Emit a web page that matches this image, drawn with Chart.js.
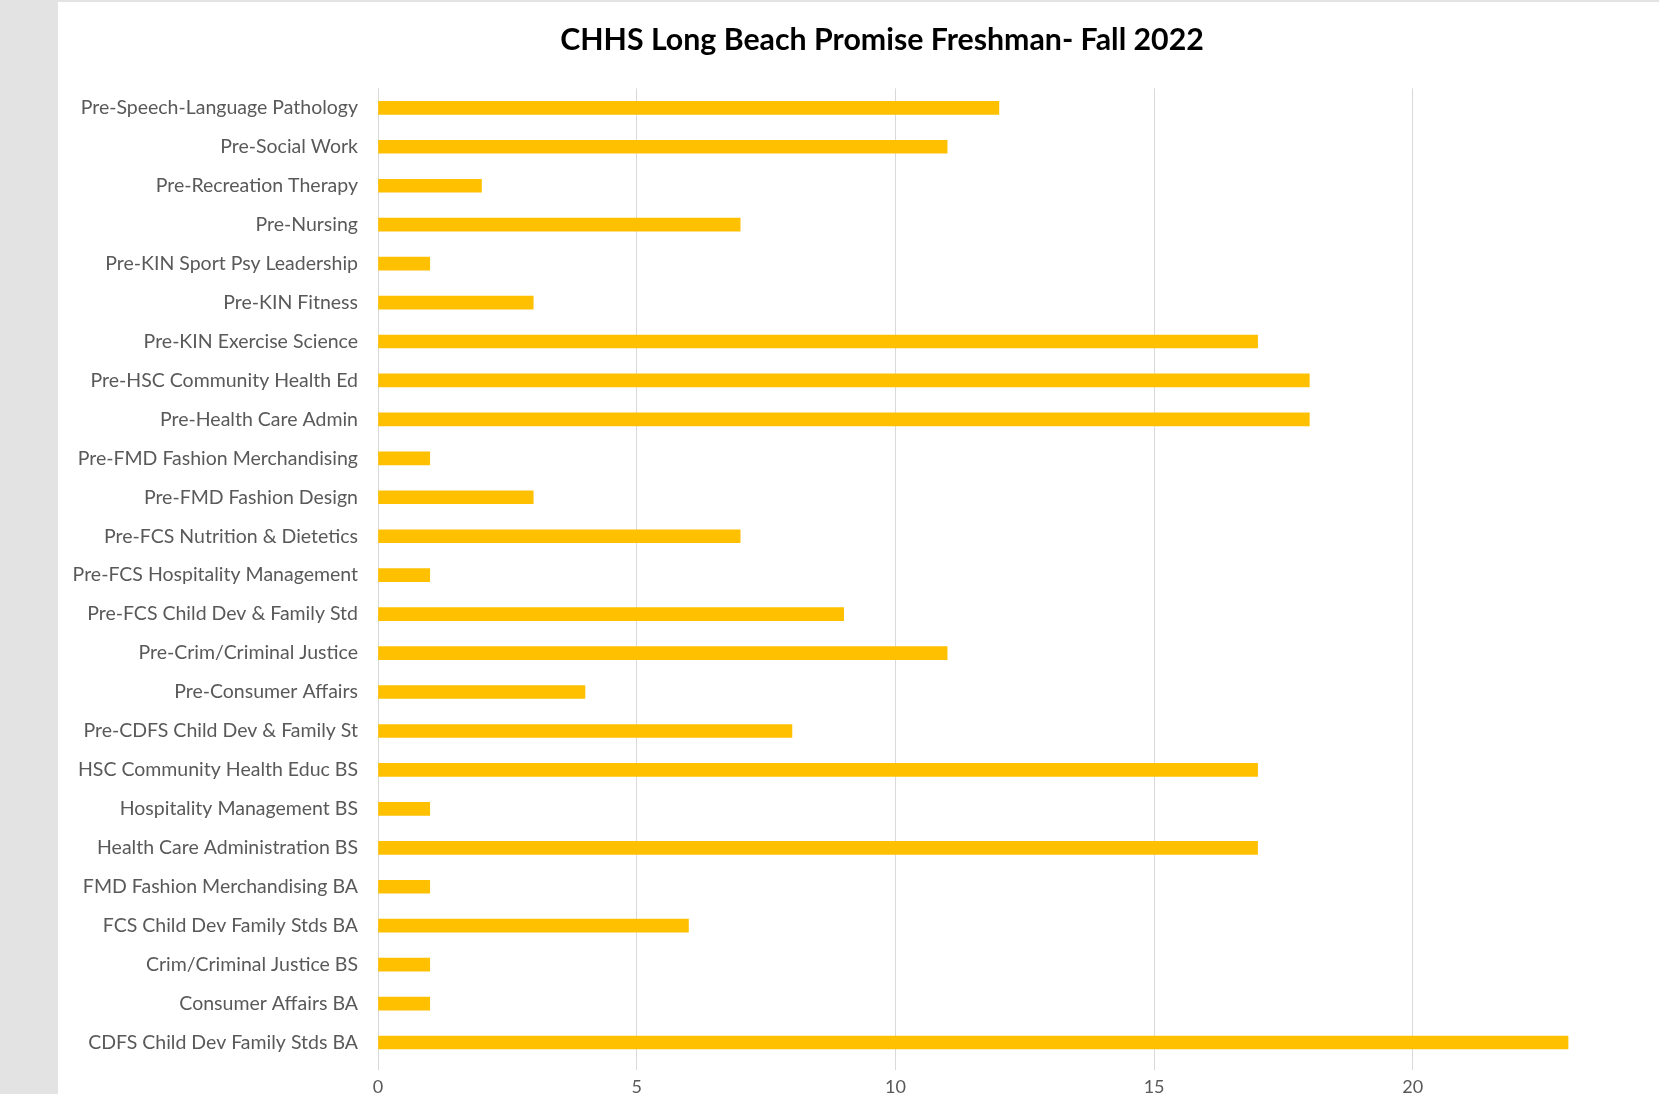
<!DOCTYPE html>
<html>
<head>
<meta charset="utf-8">
<script src="https://cdn.jsdelivr.net/npm/chart.js@4/dist/chart.umd.min.js"></script>
<style>
  html, body { margin: 0; padding: 0; background: #e3e3e3; overflow: hidden; width: 1659px; height: 1094px; }
  #panel { position: absolute; left: 58px; top: 2px; width: 1646px; height: 1100px; background: #fff; }
  canvas { display: block; }
</style>
</head>
<body>
<div id="panel"><canvas id="chart" width="1646" height="1100"></canvas></div>
<script>
// majors, top to bottom as in the picture
const majors = [
    'Pre-Speech-Language Pathology',
    'Pre-Social Work',
    'Pre-Recreation Therapy',
    'Pre-Nursing',
    'Pre-KIN Sport Psy Leadership',
    'Pre-KIN Fitness',
    'Pre-KIN Exercise Science',
    'Pre-HSC Community Health Ed',
    'Pre-Health Care Admin',
    'Pre-FMD Fashion Merchandising',
    'Pre-FMD Fashion Design',
    'Pre-FCS Nutrition & Dietetics',
    'Pre-FCS Hospitality Management',
    'Pre-FCS Child Dev & Family Std',
    'Pre-Crim/Criminal Justice',
    'Pre-Consumer Affairs',
    'Pre-CDFS Child Dev & Family St',
    'HSC Community Health Educ BS',
    'Hospitality Management BS',
    'Health Care Administration BS',
    'FMD Fashion Merchandising BA',
    'FCS Child Dev Family Stds BA',
    'Crim/Criminal Justice BS',
    'Consumer Affairs BA',
    'CDFS Child Dev Family Stds BA'
];
const freshmen = [12, 11, 2, 7, 1, 3, 17, 18, 18, 1, 3, 7, 1, 9, 11, 4, 8, 17, 1, 17, 1, 6, 1, 1, 23];
const xTicks = [0, 5, 10, 15, 20, 25];

const font = 'Lato, "Open Sans", sans-serif';

// the title sits centred on the whole chart, not just the part left of the padding
const centerTitle = {
    id: 'centerTitle',
    afterLayout(chart) {
        chart.titleBlock.left = 0;
        chart.titleBlock.right = 1648;
    }
};

const ctx = document.getElementById('chart').getContext('2d');
new Chart(ctx, {
    type: 'bar',
    data: {
        labels: majors,
        datasets: [{
            label: 'Freshmen',
            data: freshmen,
            backgroundColor: '#ffc000',
            borderWidth: 0,
            barThickness: 13
        }]
    },
    options: {
        indexAxis: 'y',
        responsive: false,
        animation: false,
        layout: { padding: { right: 32.5 } },
        plugins: {
            legend: { display: false },
            tooltip: { enabled: false },
            title: {
                display: true,
                text: 'CHHS Long Beach Promise Freshman- Fall 2022',
                color: '#000',
                font: { family: font, size: 30.3, weight: 'bold' },
                padding: { top: 20, bottom: 30 }
            }
        },
        scales: {
            x: {
                min: 0,
                max: 25,
                afterBuildTicks: scale => {
                    scale.ticks = xTicks.map(v => ({ value: v }));
                },
                afterFit: scale => { scale.height = 40; },
                grid: { color: '#d9d9d9', tickLength: 8, drawTicks: true },
                border: { display: false },
                ticks: { color: '#595959', font: { family: font, size: 18 }, padding: 6 }
            },
            y: {
                afterFit: scale => { scale.width = 320; },
                grid: { display: false, drawTicks: false },
                border: { display: false },
                ticks: { color: '#595959', font: { family: font, size: 19.5 }, padding: 20, autoSkip: false }
            }
        }
    },
    plugins: [centerTitle]
});
</script>
</body>
</html>
